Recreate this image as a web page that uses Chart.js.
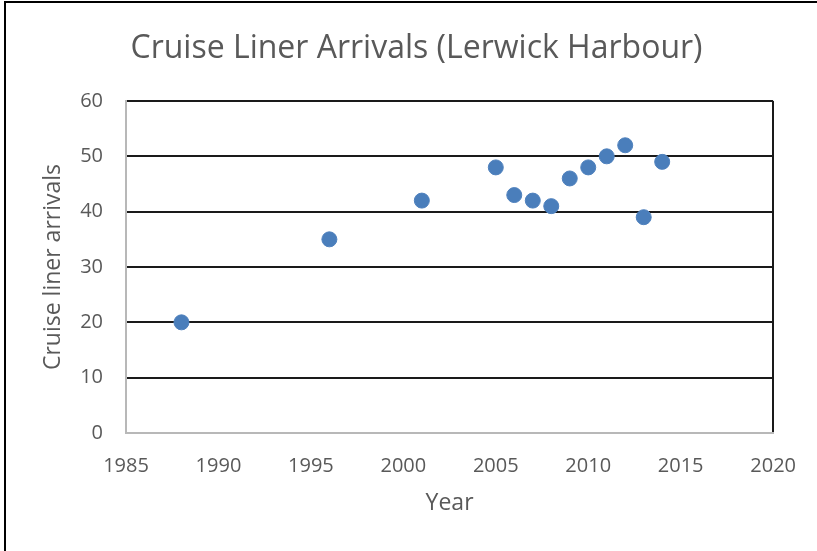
<!DOCTYPE html>
<html>
<head>
<meta charset="utf-8">
<script src="https://cdn.jsdelivr.net/npm/chart.js@4"></script>
<style>
  html, body { margin: 0; padding: 0; background: #fff; overflow: hidden; }
  #wrap { position: relative; width: 817px; height: 551px; overflow: hidden; }
  #frame { position: absolute; left: 4px; top: 1px; width: 811px; height: 548px;
           border-left: 2px solid #000; border-top: 2px solid #000; pointer-events: none; }
  #title { position: absolute; left: 0; top: 30px; width: 833px; text-align: center; white-space: nowrap;
           font-family: "Open Sans", sans-serif; font-size: 32px; line-height: 1; color: #595959; }
</style>
</head>
<body>
<div id="wrap">
  <canvas id="chart" width="817" height="551"></canvas>
  <div id="frame"></div>
  <div id="title">Cruise Liner Arrivals (Lerwick Harbour)</div>
</div>
<script>
// --- data ---
const years = [1988, 1996, 2001, 2005, 2006, 2007, 2008, 2009, 2010, 2011, 2012, 2013, 2014];
const arrivals = [20, 35, 42, 48, 43, 42, 41, 46, 48, 50, 52, 39, 49];
const xTicks = [1985, 1990, 1995, 2000, 2005, 2010, 2015, 2020];
const yTicks = [0, 10, 20, 30, 40, 50, 60];

const textColor = '#595959';
const fontFamily = '"Open Sans", sans-serif';

const ctx = document.getElementById('chart').getContext('2d');
new Chart(ctx, {
    type: 'scatter',
    data: {
        datasets: [{
            data: years.map((y, i) => ({ x: y, y: arrivals[i] })),
            backgroundColor: '#4a7ebb',
            borderColor: '#4f81bd',
            borderWidth: 1,
            pointRadius: 7.5,
            pointHoverRadius: 7.5
        }]
    },
    options: {
        responsive: false,
        animation: false,
        layout: { padding: { left: 0, top: 101, right: 42, bottom: 0 } },
        plugins: {
            legend: { display: false },
            tooltip: { enabled: false },
            title: { display: false }
        },
        scales: {
            x: {
                type: 'linear',
                min: xTicks[0],
                max: xTicks[xTicks.length - 1],
                afterBuildTicks: s => { s.ticks = xTicks.map(v => ({ value: v })); },
                afterFit: s => { s.height = 118; },
                ticks: {
                    color: textColor,
                    font: { family: fontFamily, size: 20 },
                    padding: 21,
                    maxRotation: 0,
                    callback: v => String(v)
                },
                grid: {
                    drawTicks: false,
                    color: c => c.tick && c.tick.value === 2020 ? '#1a1a1a' : 'rgba(0,0,0,0)',
                    lineWidth: 2
                },
                border: { display: true, color: '#b8b8b8', width: 2 },
                title: {
                    display: true,
                    text: 'Year',
                    color: textColor,
                    font: { family: fontFamily, size: 23 },
                    padding: { top: 0, bottom: 34 }
                }
            },
            y: {
                min: yTicks[0],
                max: yTicks[yTicks.length - 1],
                afterBuildTicks: s => { s.ticks = yTicks.map(v => ({ value: v })); },
                afterFit: s => { s.width = 126; },
                ticks: {
                    color: textColor,
                    font: { family: fontFamily, size: 20 },
                    padding: 23
                },
                grid: {
                    drawTicks: false,
                    color: c => c.tick && c.tick.value === 0 ? 'rgba(0,0,0,0)' : '#1a1a1a',
                    lineWidth: 2
                },
                border: { display: true, color: '#b8b8b8', width: 2 },
                title: {
                    display: true,
                    text: 'Cruise liner arrivals',
                    color: textColor,
                    font: { family: fontFamily, size: 23 },
                    padding: { top: 40, bottom: 0 }
                }
            }
        }
    }
});
</script>
</body>
</html>
